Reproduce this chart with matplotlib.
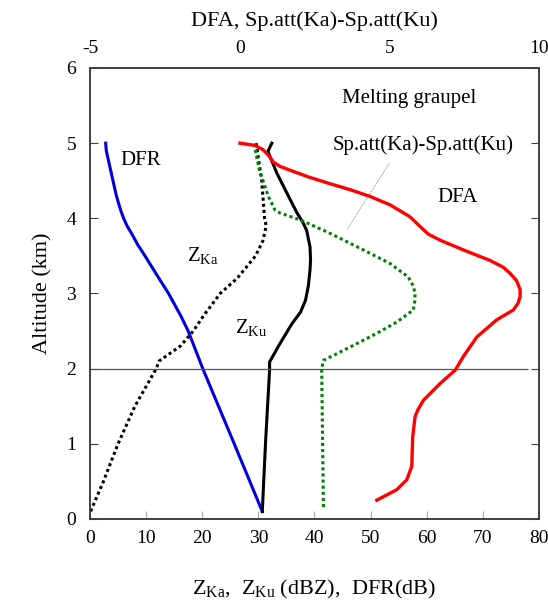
import numpy as np
import matplotlib
matplotlib.use('Agg')
import matplotlib.pyplot as plt

plt.rcParams['font.family'] = ['Liberation Serif', 'DejaVu Serif']
plt.rcParams['mathtext.fontset'] = 'custom'
plt.rcParams['mathtext.rm'] = 'Liberation Serif'
plt.rcParams['mathtext.it'] = 'Liberation Serif:italic'

####################
# DATA
####################
# DFR (dB), bottom axis
alt_dfr = [5.0, 4.9, 4.7, 4.5, 4.3, 4.1, 4.0, 3.9, 3.8, 3.65, 3.5, 3.2, 3.0, 2.7, 2.5, 2.0, 1.0, 0.1]
dfr = [2.8, 2.9, 3.5, 4.1, 4.7, 5.5, 6.0, 6.6, 7.4, 8.5, 9.8, 12.3, 14.0, 16.2, 17.5, 20.1, 25.7, 30.7]

# Z_Ka (dBZ), bottom axis
alt_zka = [5.0, 4.8, 4.5, 4.2, 4.0, 3.9, 3.7, 3.5, 3.2, 3.0, 2.7, 2.5, 2.3, 2.1, 2.0, 1.5, 1.0, 0.5, 0.1]
zka = [29.6, 30.0, 30.6, 30.9, 31.1, 31.4, 30.8, 29.5, 26.2, 23.2, 20.2, 18.4, 16.1, 12.3, 11.8, 8.0, 5.0, 2.4, 0.1]

# Z_Ku (dBZ), bottom axis
alt_zku = [5.0, 4.89, 4.6, 4.2, 4.07, 3.95, 3.84, 3.62, 3.45, 3.31, 3.1, 2.91, 2.75, 2.6, 2.34, 2.09, 1.98, 1.05, 0.1]
zku = [32.4, 31.7, 33.3, 36.0, 36.9, 37.9, 38.6, 39.2, 39.3, 39.2, 38.9, 38.4, 37.5, 36.0, 33.9, 32.0, 32.0, 31.3, 30.7]

# Sp.att(Ka)-Sp.att(Ku), top axis
alt_spatt = [4.99, 4.64, 4.29, 4.11, 4.07, 3.98, 3.80, 3.58, 3.40, 3.22, 3.1, 3.0, 2.9, 2.78, 2.62, 2.47, 2.31, 2.11, 2.0, 0.12]
spatt = [0.48, 0.66, 0.96, 1.18, 1.35, 2.02, 3.02, 4.13, 5.02, 5.63, 5.80, 5.86, 5.85, 5.80, 5.25, 4.58, 3.80, 2.80, 2.74, 2.80]

# DFA, top axis
alt_dfa = [5.0, 4.97, 4.91, 4.82, 4.75, 4.69, 4.64, 4.55, 4.46, 4.38, 4.29, 4.18, 4.09, 4.02, 3.89,
           3.79, 3.71, 3.58, 3.44, 3.35, 3.27, 3.17, 3.05, 2.96, 2.87, 2.78, 2.65, 2.42, 2.16,
           1.98, 1.80, 1.58, 1.45, 1.36, 1.09, 0.70, 0.52, 0.39, 0.25]
dfa = [0.01, 0.51, 0.79, 1.0, 1.12, 1.35, 1.68, 2.3, 3.02, 3.7, 4.36, 5.02, 5.4, 5.69, 6.03,
       6.3, 6.69, 7.47, 8.36, 8.8, 9.03, 9.25, 9.37, 9.37, 9.3, 9.14, 8.59, 7.92, 7.47,
       7.20, 6.69, 6.14, 5.95, 5.86, 5.78, 5.75, 5.58, 5.25, 4.58]

bottom_ticks = [0, 10, 20, 30, 40, 50, 60, 70, 80]
top_ticks = [-5, 0, 5, 10]
alt_ticks = [0, 1, 2, 3, 4, 5, 6]

####################
# PLOT
####################
spine_clr = '#404040'
fig = plt.figure(figsize=(5.48, 6.07), dpi=100)
ax = fig.add_axes([0.1642, 0.145, 0.8194, 0.743])
ax2 = ax.twiny()

dots = (0, (1, 1))
ax.plot(dfr, alt_dfr, color='#0000dd', lw=2.2)
ax.plot(zka, alt_zka, color='black', lw=2.2, ls=dots)
ax.plot(zku, alt_zku, color='black', lw=2.2)
ax2.plot(spatt, alt_spatt, color='#008000', lw=2.2, ls=dots)
ax2.plot(dfa, alt_dfa, color='#ff0000', lw=2.4)

# melting layer bottom
ax.hlines(2, 0, 78, color='#555555', lw=0.9)

ax.set_xlim(0, 80)
ax.set_ylim(0, 6)
ax2.set_xlim(-5, 10)
ax.set_xticks(bottom_ticks)
ax.set_yticks(alt_ticks)
ax2.set_xticks(top_ticks)
ax2.set_xticklabels([str(t) for t in top_ticks])

for a in (ax, ax2):
    for s in a.spines.values():
        s.set_color(spine_clr)
        s.set_linewidth(1.2)
ax.tick_params(axis='x', direction='in', length=6, color='#aaaaaa', labelsize=14, pad=8)
ax.tick_params(axis='y', direction='in', length=6, color=spine_clr, labelsize=14,
               right=True, pad=10)
ax2.tick_params(axis='x', direction='in', length=0, labelsize=14, pad=8)

ax.set_ylabel('Altitude (km)', fontsize=16, labelpad=10)
ax.set_xlabel(r'Z$_{\mathrm{Ka}}$,  Z$_{\mathrm{Ku}}$ (dBZ),  DFR(dB)', fontsize=16, labelpad=22)
ax2.set_xlabel('DFA, Sp.att(Ka)-Sp.att(Ku)', fontsize=16, labelpad=10)

# annotations
ax.text(56.8, 5.6, 'Melting graupel', fontsize=15, ha='center', va='center')
ax.text(5.4, 4.77, 'DFR', fontsize=15, ha='left', va='center')
ax.text(17.3, 3.5, r'Z$_{\mathrm{Ka}}$', fontsize=15, ha='left', va='center')
ax.text(25.9, 2.55, r'Z$_{\mathrm{Ku}}$', fontsize=15, ha='left', va='center')
ax.text(59.3, 4.97, 'Sp.att(Ka)-Sp.att(Ku)', fontsize=15, ha='center', va='center')
ax.text(65.4, 4.28, 'DFA', fontsize=15, ha='center', va='center')
ax.plot([53.3, 45.8], [4.73, 3.85], color='#888888', lw=0.7, ls=(0, (1, 1)))

fig.savefig('out.png', dpi=100)
